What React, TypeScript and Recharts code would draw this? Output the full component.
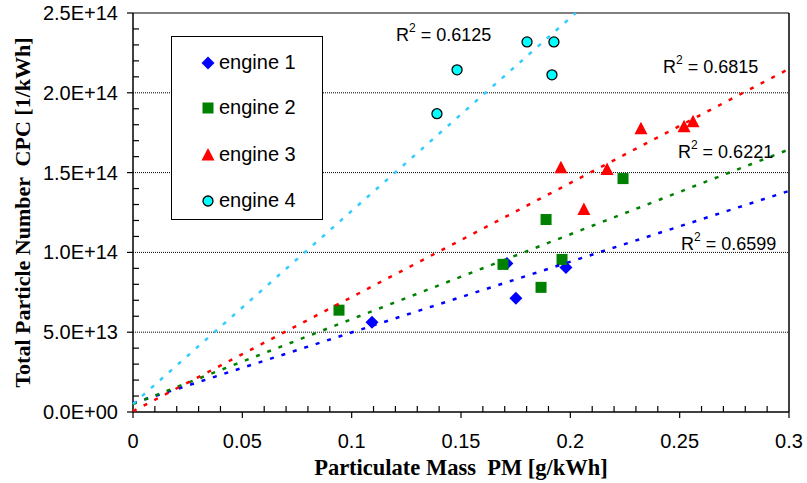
import React from "react";
import {
  ScatterChart,
  Scatter,
  XAxis,
  YAxis,
  ReferenceLine,
  ReferenceDot,
  Legend,
  Label,
} from "recharts";

// measured points, PM [g/kWh] vs particle number [1/kWh]
const engine1 = [
  { x: 0.1093, y: 5.63e13 },
  { x: 0.171, y: 9.31e13 },
  { x: 0.1751, y: 7.13e13 },
  { x: 0.198, y: 9.06e13 },
];
const engine2 = [
  { x: 0.0942, y: 6.38e13 },
  { x: 0.1692, y: 9.25e13 },
  { x: 0.1866, y: 7.81e13 },
  { x: 0.1889, y: 1.206e14 },
  { x: 0.1962, y: 9.56e13 },
  { x: 0.2241, y: 1.4625e14 },
];
const engine3 = [
  { x: 0.1957, y: 1.531e14 },
  { x: 0.2062, y: 1.269e14 },
  { x: 0.2168, y: 1.519e14 },
  { x: 0.2323, y: 1.775e14 },
  { x: 0.252, y: 1.7875e14 },
  { x: 0.2561, y: 1.819e14 },
];
const engine4 = [
  { x: 0.139, y: 1.869e14 },
  { x: 0.1482, y: 2.144e14 },
  { x: 0.1802, y: 2.319e14 },
  { x: 0.1916, y: 2.1125e14 },
  { x: 0.1925, y: 2.319e14 },
];

// linear trendlines, end points
const trend1 = [{ x: 0, y: 5.5e12 }, { x: 0.3, y: 1.385e14 }];
const trend2 = [{ x: 0, y: 5e12 }, { x: 0.3, y: 1.645e14 }];
const trend3 = [{ x: 0, y: 5e11 }, { x: 0.3, y: 2.15e14 }];
const trend4 = [{ x: 0, y: 5e12 }, { x: 0.2025, y: 2.5e14 }];

const r2Values = ["0.6599", "0.6221", "0.6815", "0.6125"];
const r2Anchors = [
  { x: 0.2506, y: 1.05e14 },
  { x: 0.2492, y: 1.631e14 },
  { x: 0.2424, y: 2.1625e14 },
  { x: 0.1203, y: 2.3625e14 },
];

const xTickLabels = ["0", "0.05", "0.1", "0.15", "0.2", "0.25", "0.3"];
const yTickLabels = ["0.0E+00", "5.0E+13", "1.0E+14", "1.5E+14", "2.0E+14", "2.5E+14"];
const yGridValues = [5e13, 1e14, 1.5e14, 2e14];
const xTicks = Array.from({ length: 31 }, (_, i) => i / 100);
const yTicks = Array.from({ length: 26 }, (_, i) => i * 1e13);

const engineNames = ["engine 1", "engine 2", "engine 3", "engine 4"];

const SANS = "Arial, 'Liberation Sans', sans-serif";
const SERIF = "'Times New Roman', 'Liberation Serif', serif";

function marker(kind: number, cx: number, cy: number) {
  if (kind === 0)
    return <polygon points={`${cx},${cy - 6.5} ${cx + 6.5},${cy} ${cx},${cy + 6.5} ${cx - 6.5},${cy}`} fill="#0000ff" />;
  if (kind === 1)
    return <rect x={cx - 5.5} y={cy - 5.5} width={11} height={11} fill="#008000" />;
  if (kind === 2)
    return <polygon points={`${cx},${cy - 7} ${cx + 6.5},${cy + 5.5} ${cx - 6.5},${cy + 5.5}`} fill="#ff0000" />;
  return <circle cx={cx} cy={cy} r={5} fill="#00ffff" stroke="#000" strokeWidth={1.3} />;
}

function XTick({ x, y, index }: any) {
  const major = index % 5 === 0;
  return (
    <g>
      <line x1={x} x2={x} y1={major ? y : y - 6} y2={major ? y + 6 : y} stroke="#000" strokeWidth={1.2} />
      {major && (
        <text x={x} y={y + 29} textAnchor="middle" dominantBaseline="central" fontSize={20} fontFamily={SANS} fill="#000">
          {xTickLabels[index / 5]}
        </text>
      )}
    </g>
  );
}

function YTick({ x, y, index }: any) {
  const major = index % 5 === 0;
  return (
    <g>
      <line x1={major ? x - 6 : x} x2={major ? x : x + 6} y1={y} y2={y} stroke="#000" strokeWidth={1.2} />
      {major && (
        <text x={x - 15} y={y} textAnchor="end" dominantBaseline="central" fontSize={20} fontFamily={SANS} fill="#000">
          {yTickLabels[index / 5]}
        </text>
      )}
    </g>
  );
}

function LegendBox() {
  const rows = [26, 71, 118, 164];
  return (
    <div
      style={{
        width: 152,
        height: 184,
        border: "1px solid #000",
        boxSizing: "border-box",
        background: "#fff",
        position: "relative",
        fontFamily: SANS,
        fontSize: 20,
        color: "#000",
      }}
    >
      {engineNames.map((name, i) => (
        <React.Fragment key={name}>
          <svg width={16} height={16} style={{ position: "absolute", left: 28, top: rows[i] - 8 }}>
            {marker(i, 8, 8)}
          </svg>
          <span style={{ position: "absolute", left: 47, top: rows[i] - 12, lineHeight: "22px", whiteSpace: "nowrap" }}>
            {name}
          </span>
        </React.Fragment>
      ))}
    </div>
  );
}

const trendColors = ["#0000ff", "#008000", "#ff0000", "#33ccff"];
const trends = [trend1, trend2, trend3, trend4];
const engines = [engine1, engine2, engine3, engine4];

export default function App() {
  return (
    <div style={{ width: 807, height: 483, background: "#fff" }}>
      <style>{"body{margin:0}"}</style>
      <ScatterChart width={807} height={483} margin={{ top: 13, right: 18, bottom: 0, left: 0 }}>
        <XAxis
          type="number"
          dataKey="x"
          domain={[0, 0.3]}
          ticks={xTicks}
          interval={0}
          height={71}
          tickSize={0}
          tickMargin={0}
          tickLine={false}
          tick={<XTick />}
          axisLine={{ stroke: "#000", strokeWidth: 1.5 }}
        >
          <Label
            content={({ viewBox }: any) => (
              <text
                x={viewBox.x + viewBox.width / 2}
                y={viewBox.y + 55}
                textAnchor="middle"
                dominantBaseline="central"
                fontSize={22.5}
                fontWeight="bold"
                fontFamily={SERIF}
                style={{ whiteSpace: "pre" }}
              >
                {"Particulate Mass  PM [g/kWh]"}
              </text>
            )}
          />
        </XAxis>
        <YAxis
          type="number"
          dataKey="y"
          domain={[0, 2.5e14]}
          ticks={yTicks}
          interval={0}
          width={133}
          tickSize={0}
          tickMargin={0}
          tickLine={false}
          tick={<YTick />}
          axisLine={{ stroke: "#000", strokeWidth: 1.5 }}
        >
          <Label
            content={({ viewBox }: any) => {
              const cx = 22;
              const cy = viewBox.y + viewBox.height / 2;
              return (
                <text
                  x={cx}
                  y={cy}
                  transform={`rotate(-90 ${cx} ${cy})`}
                  textAnchor="middle"
                  dominantBaseline="central"
                  fontSize={22}
                  fontWeight="bold"
                  fontFamily={SERIF}
                  style={{ whiteSpace: "pre" }}
                >
                  {"Total Particle Number  CPC [1/kWh]"}
                </text>
              );
            }}
          />
        </YAxis>

        {yGridValues.map((v) => (
          <ReferenceLine key={v} y={v} stroke="#000" strokeDasharray="1 1" strokeWidth={1} />
        ))}
        <ReferenceLine y={2.5e14} stroke="#000" strokeWidth={1.2} />
        <ReferenceLine x={0.3} stroke="#000" strokeWidth={1.5} />

        {engines.map((data, i) => (
          <Scatter
            key={engineNames[i]}
            name={engineNames[i]}
            data={data}
            isAnimationActive={false}
            shape={(p: any) => marker(i, p.cx, p.cy)}
          />
        ))}

        {trends.map((data, i) => (
          <Scatter
            key={"trend" + i}
            data={data}
            legendType="none"
            isAnimationActive={false}
            line={{ stroke: trendColors[i], strokeWidth: 2.5, strokeDasharray: "4 8" }}
            shape={() => <g />}
          />
        ))}

        {r2Anchors.map((a, i) => (
          <ReferenceDot
            key={r2Values[i]}
            x={a.x}
            y={a.y}
            r={0}
            shape={(p: any) => (
              <text x={p.cx} y={p.cy} dominantBaseline="central" fontSize={18} fontFamily={SANS} fill="#000" style={{ whiteSpace: "pre" }}>
                R
                <tspan fontSize={12} dy={-7}>2</tspan>
                <tspan dy={7}>{" = " + r2Values[i]}</tspan>
              </text>
            )}
          />
        ))}

        <Legend
          layout="vertical"
          align="center"
          verticalAlign="middle"
          wrapperStyle={{ left: 171, top: 36, width: 152, height: 184 }}
          content={() => <LegendBox />}
        />
      </ScatterChart>
    </div>
  );
}
